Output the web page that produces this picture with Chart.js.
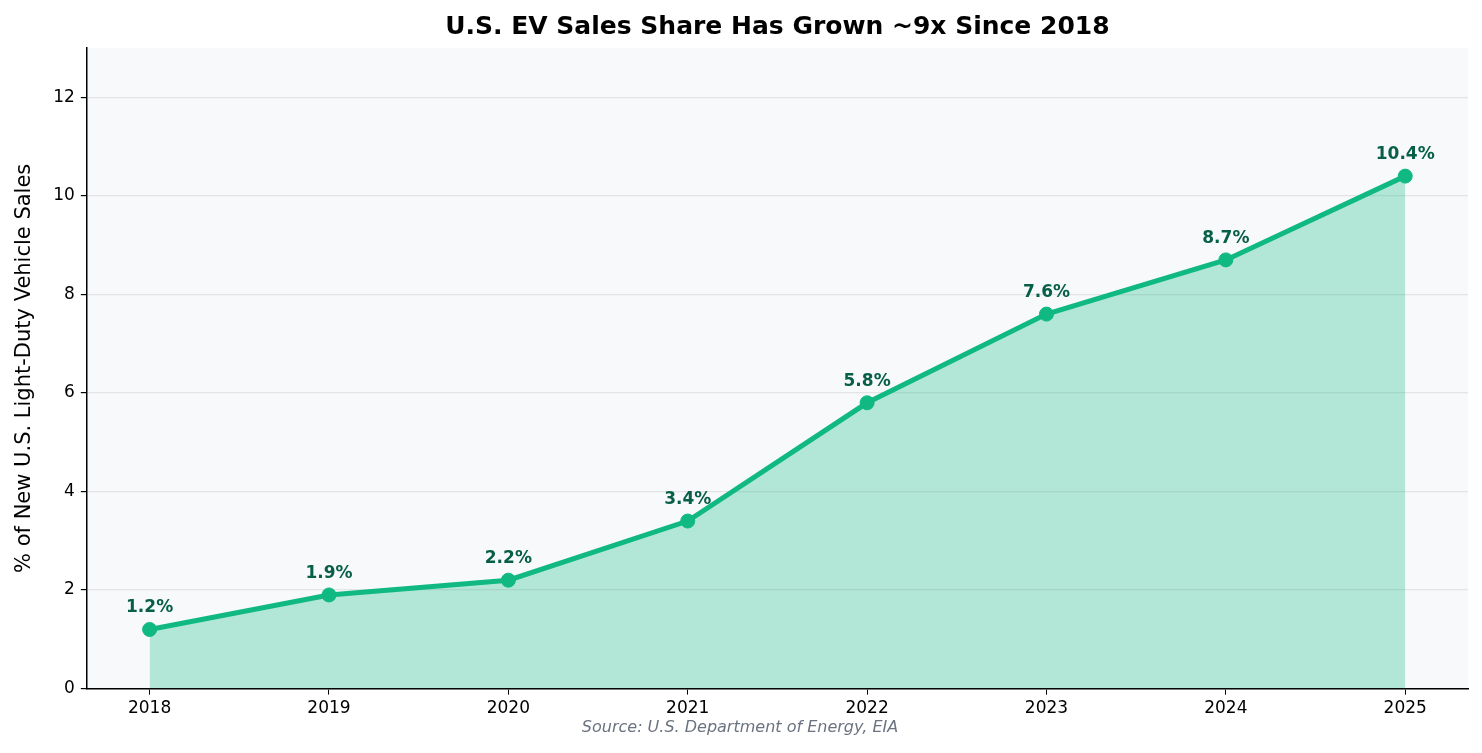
<!DOCTYPE html>
<html>
<head>
<script src="https://cdn.jsdelivr.net/npm/chart.js@4"></script>
<style>
  body { margin: 0; background: #fff; }
  #wrap { width: 1482px; height: 753px; position: relative; }
</style>
</head>
<body>
<div id="wrap"><canvas id="evChart"></canvas></div>
<script>
const years = [2018, 2019, 2020, 2021, 2022, 2023, 2024, 2025];
const evShare = [1.2, 1.9, 2.2, 3.4, 5.8, 7.6, 8.7, 10.4];
const yTicks = [0, 2, 4, 6, 8, 10, 12];

const GREEN = '#10b981';
const DARK_GREEN = '#065f46';

// plot background, title over the axes, point labels, source note
const extras = {
  id: 'extras',
  beforeDraw(chart) {
    const { ctx, chartArea: a } = chart;
    ctx.save();
    ctx.fillStyle = '#f8f9fb';
    ctx.fillRect(a.left, a.top, a.right - a.left, a.bottom - a.top);
    ctx.font = 'bold 25px "DejaVu Sans"';
    ctx.fillStyle = '#000';
    ctx.textAlign = 'center';
    ctx.textBaseline = 'middle';
    ctx.fillText('U.S. EV Sales Share Has Grown ~9x Since 2018', (a.left + a.right) / 2, 27);
    ctx.restore();
  },
  afterDatasetsDraw(chart) {
    const { ctx } = chart;
    const meta = chart.getDatasetMeta(0);
    ctx.save();
    ctx.font = 'bold 17px "DejaVu Sans"';
    ctx.fillStyle = DARK_GREEN;
    ctx.textAlign = 'center';
    ctx.textBaseline = 'bottom';
    meta.data.forEach((pt, i) => {
      ctx.fillText(evShare[i].toFixed(1) + '%', pt.x, pt.y - 13);
    });
    ctx.font = 'italic 16px "DejaVu Sans"';
    ctx.fillStyle = '#6b7280';
    ctx.textBaseline = 'middle';
    ctx.fillText('Source: U.S. Department of Energy, EIA', 740, 728);
    ctx.restore();
  }
};

const ctx = document.getElementById('evChart').getContext('2d');
new Chart(ctx, {
  type: 'line',
  data: {
    datasets: [{
      data: years.map((y, i) => ({ x: y, y: evShare[i] })),
      borderColor: GREEN,
      backgroundColor: 'rgba(16, 185, 129, 0.3)',
      fill: 'origin',
      borderWidth: 5,
      pointRadius: 7,
      pointBorderWidth: 1,
      pointBackgroundColor: GREEN,
      pointBorderColor: GREEN,
      tension: 0
    }]
  },
  options: {
    responsive: true,
    maintainAspectRatio: false,
    animation: false,
    layout: { padding: { top: 48, right: 14, bottom: 30, left: 8 } },
    plugins: {
      legend: { display: false },
      tooltip: { enabled: false }
    },
    scales: {
      x: {
        type: 'linear',
        min: 2017.65,
        max: 2025.35,
        grid: { display: true, drawOnChartArea: false, drawTicks: true, tickLength: 6, color: '#000' },
        border: { color: '#000', width: 1.5 },
        afterBuildTicks: (axis) => { axis.ticks = years.map(v => ({ value: v })); },
        ticks: {
          color: '#000',
          font: { family: 'DejaVu Sans', size: 17 },
          callback: (v) => String(v),
          padding: 4
        }
      },
      y: {
        min: 0,
        max: 13,
        grid: { color: '#e2e4e8', lineWidth: 1.2, drawTicks: true, tickLength: 6, tickColor: '#000' },
        border: { color: '#000', width: 1.5 },
        afterBuildTicks: (axis) => { axis.ticks = yTicks.map(v => ({ value: v })); },
        ticks: {
          color: '#000',
          font: { family: 'DejaVu Sans', size: 17 },
          padding: 6
        },
        title: {
          display: true,
          text: '% of New U.S. Light-Duty Vehicle Sales',
          color: '#000',
          font: { family: 'DejaVu Sans', size: 21 },
          padding: { bottom: 10 }
        }
      }
    }
  },
  plugins: [extras]
});
</script>
</body>
</html>
